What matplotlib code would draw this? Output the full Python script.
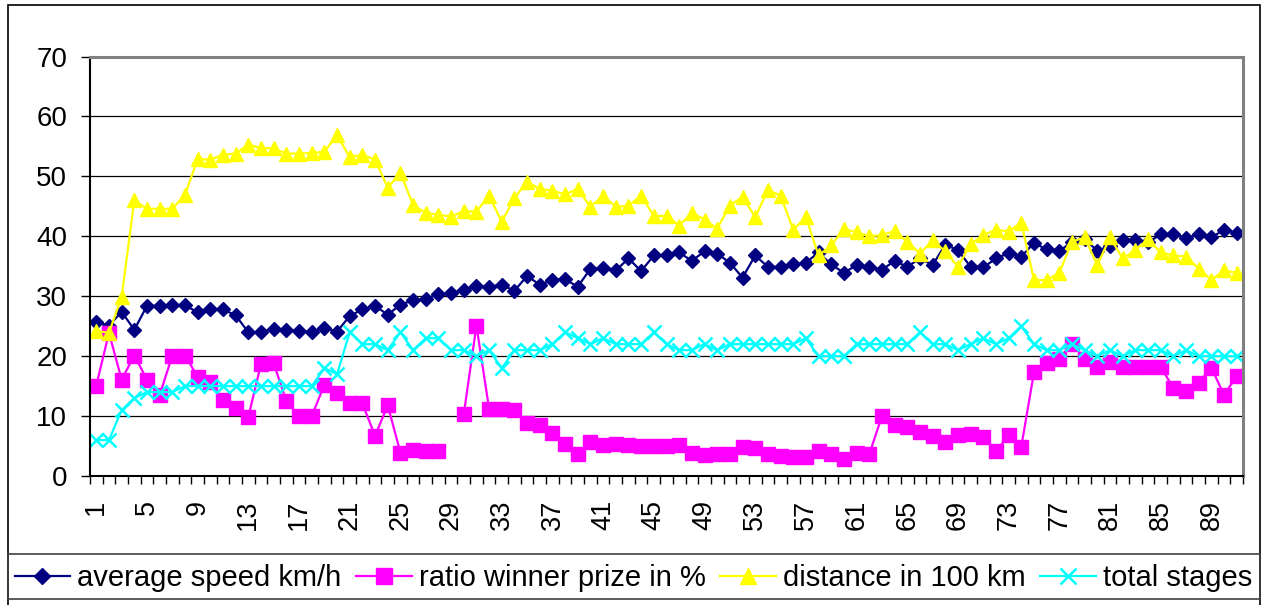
import numpy as np
import matplotlib
matplotlib.use("Agg")
import matplotlib.pyplot as plt
from matplotlib.patches import Rectangle

plt.rcParams['font.family'] = ['Liberation Sans', 'DejaVu Sans']

# one value per tour (91 tours)
tour_nr = list(range(1, 92))

avg_speed = [25.7, 25.1, 27.4, 24.4, 28.4, 28.4, 28.6, 28.5, 27.3, 27.9,
             27.8, 26.8, 24.0, 24.0, 24.6, 24.4, 24.2, 24.0, 24.7, 24.1,
             26.7, 27.8, 28.4, 26.9, 28.6, 29.3, 29.6, 30.3, 30.6, 31.0,
             31.7, 31.6, 31.9, 30.9, 33.4, 31.9, 32.7, 32.8, 31.6, 34.6,
             34.7, 34.3, 36.3, 34.2, 36.8, 36.9, 37.3, 35.9, 37.5, 37.1,
             35.6, 33.1, 36.8, 34.9, 34.9, 35.3, 35.6, 37.3, 35.3, 33.9,
             35.2, 34.9, 34.4, 35.9, 34.9, 36.3, 35.2, 38.6, 37.7, 34.9,
             34.8, 36.3, 37.2, 36.6, 38.9, 37.8, 37.5, 39.1, 39.5, 37.6,
             38.4, 39.3, 39.4, 39.0, 40.3, 40.4, 39.7, 40.3, 39.8, 41.1,
             40.6]

# tour 29 has no value for the prize ratio (gap in the line)
prize_ratio = [15.1, 23.9, 16.1, 20.1, 16.1, 13.5, 20.1, 20.1, 16.6, 15.7,
               12.7, 11.3, 9.9, 18.7, 18.8, 12.5, 10.0, 10.0, 15.2, 13.9,
               12.1, 12.1, 6.7, 11.8, 3.9, 4.3, 4.1, 4.2, np.nan, 10.3,
               25.1, 11.2, 11.2, 11.0, 8.8, 8.5, 7.1, 5.3, 3.6, 5.7,
               5.2, 5.4, 5.2, 5.0, 5.0, 5.0, 5.1, 3.8, 3.5, 3.6,
               3.6, 4.8, 4.6, 3.6, 3.3, 3.2, 3.2, 4.2, 3.6, 2.9,
               3.9, 3.6, 10.0, 8.5, 8.1, 7.4, 6.6, 5.6, 6.9, 7.0,
               6.5, 4.1, 6.8, 4.9, 17.3, 18.8, 19.6, 22.1, 19.6, 18.2,
               19.1, 18.2, 18.2, 18.2, 18.2, 14.7, 14.2, 15.6, 18.1, 13.5,
               16.7]

distance = [24.2, 23.9, 29.9, 46.0, 44.6, 44.6, 44.6, 46.9, 52.9, 52.8,
            53.6, 53.8, 55.3, 54.7, 54.7, 53.8, 53.8, 53.9, 54.1, 56.9,
            53.2, 53.6, 52.8, 48.1, 50.6, 45.2, 43.9, 43.6, 43.3, 44.2,
            44.1, 46.8, 42.4, 46.4, 49.1, 47.9, 47.6, 47.0, 47.9, 44.9,
            46.8, 44.9, 45.1, 46.8, 43.4, 43.4, 41.8, 43.9, 42.8, 41.3,
            45.1, 46.6, 43.2, 47.7, 46.8, 41.1, 43.2, 36.8, 38.5, 41.2,
            40.7, 40.0, 40.2, 40.9, 39.1, 37.1, 39.3, 37.5, 34.9, 38.7,
            40.2, 41.1, 40.8, 42.3, 32.7, 32.7, 33.9, 39.1, 39.8, 35.2,
            39.8, 36.3, 37.7, 39.5, 37.3, 36.8, 36.6, 34.6, 32.7, 34.3,
            33.9]

total_stages = [6, 6, 11, 13, 14, 14, 14, 15, 15, 15,
                15, 15, 15, 15, 15, 15, 15, 15, 18, 17,
                24, 22, 22, 21, 24, 21, 23, 23, 21, 21,
                20, 21, 18, 21, 21, 21, 22, 24, 23, 22,
                23, 22, 22, 22, 24, 22, 21, 21, 22, 21,
                22, 22, 22, 22, 22, 22, 23, 20, 20, 20,
                22, 22, 22, 22, 22, 24, 22, 22, 21, 22,
                23, 22, 23, 25, 22, 21, 21, 22, 21, 20,
                21, 20, 21, 21, 21, 20, 21, 20, 20, 20,
                20]

x_tick_pos = list(range(1, 92, 4))
x_tick_labels = ["1", "5", "9", "13", "17", "21", "25", "29", "33", "37",
                 "41", "45", "49", "53", "57", "61", "65", "69", "73", "77",
                 "81", "85", "89"]
y_ticks = [0, 10, 20, 30, 40, 50, 60, 70]

fig = plt.figure(figsize=(12.67, 6.05), dpi=100)
ax = fig.add_axes([0.0710, 0.2132, 0.9101, 0.6934])

# the four series, drawn in the same order as the spreadsheet
ax.plot(tour_nr, avg_speed, color='#000080', marker='D', markersize=7.2,
        lw=1.6, label='average speed km/h')
ax.plot(tour_nr, prize_ratio, color='#FF00FF', marker='s', markersize=10.5,
        lw=1.6, label='ratio winner prize in %')
ax.plot(tour_nr, distance, color='#FFFF00', marker='^', markersize=10.5,
        lw=1.6, label='distance in 100 km')
ax.plot(tour_nr, total_stages, color='#00FFFF', marker='x', markersize=9.5,
        mew=1.8, lw=1.6, label='total stages')

ax.set_xlim(0.5, 91.5)
ax.set_ylim(0, 70)
ax.set_yticks(y_ticks)
ax.yaxis.grid(True, color='black', lw=0.9)
ax.set_axisbelow(True)

# labels every 4th tour, small ticks between every category
ax.set_xticks(x_tick_pos)
ax.set_xticklabels(x_tick_labels, rotation=90)
ax.set_xticks(np.arange(0.5, 92, 1), minor=True)
ax.tick_params(axis='x', which='major', length=0, pad=17, labelsize=19.5)
ax.tick_params(axis='x', which='minor', length=6, width=1, color='black')
ax.tick_params(axis='y', length=6.5, width=1, pad=10, labelsize=20)

ax.spines['left'].set_color('black')
ax.spines['left'].set_linewidth(1.5)
ax.spines['bottom'].set_color('black')
ax.spines['bottom'].set_linewidth(1.5)
ax.spines['top'].set_color('#808080')
ax.spines['top'].set_linewidth(2.2)
ax.spines['right'].set_color('#808080')
ax.spines['right'].set_linewidth(2.2)

# outer chart border and the box round the legend
fig.patches.append(Rectangle((0.0063, -0.02), 0.9882, 1.0117, transform=fig.transFigure,
                             fill=False, edgecolor='black', lw=1.2))
fig.patches.append(Rectangle((0.0063, 0.0099), 0.9882, 0.0744, transform=fig.transFigure,
                             fill=False, edgecolor='#404040', lw=1.2))

fig.legend(loc='center', bbox_to_anchor=(0.5, 0.0446), ncol=4, frameon=False,
           fontsize=21, handlelength=1.9, handletextpad=0.25, columnspacing=0.5,
           borderaxespad=0, markerscale=1.15)

fig.savefig('out.png', dpi=100)
